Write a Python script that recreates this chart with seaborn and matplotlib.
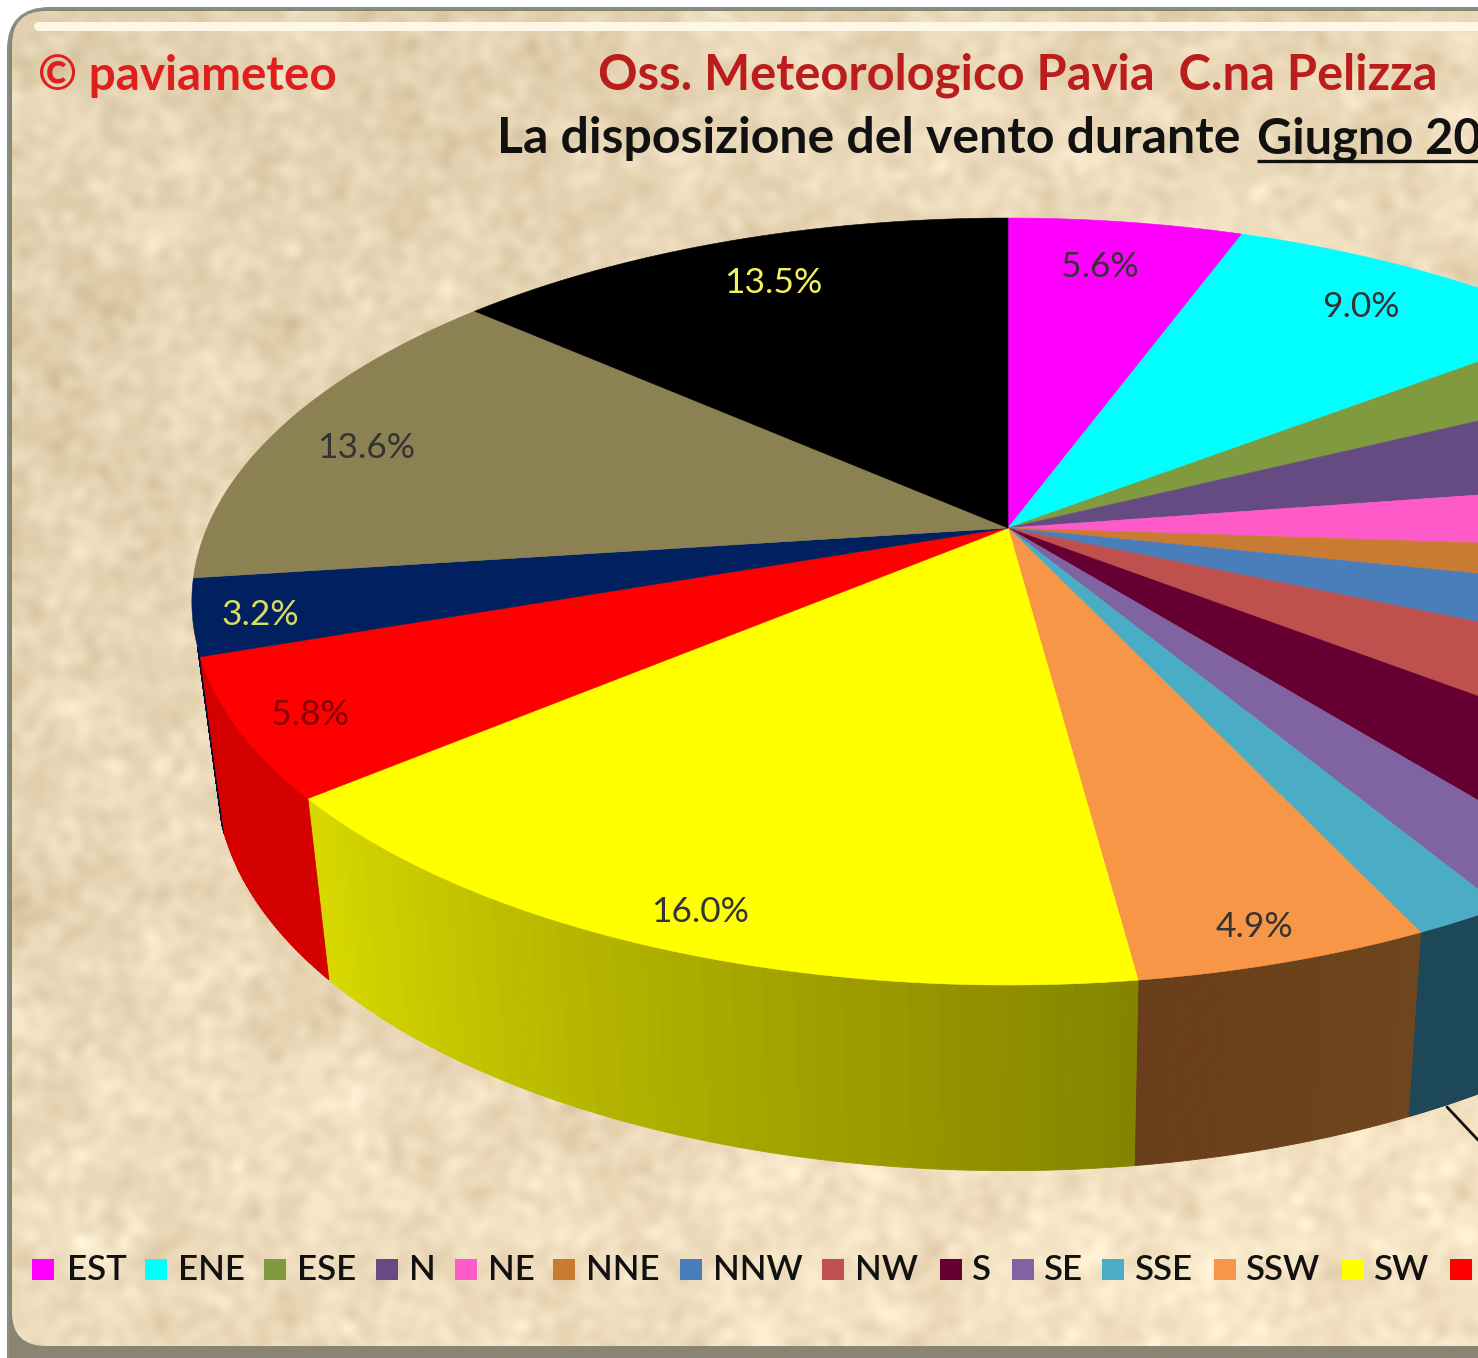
import numpy as np
import matplotlib
matplotlib.use('Agg')
import matplotlib.pyplot as plt
from matplotlib.patches import FancyBboxPatch
import seaborn as sns

# dati (senso orario dall'alto)
directions = ['EST', 'ENE', 'ESE', 'N', 'NE', 'NNE', 'NNW', 'NW', 'S', 'SE', 'SSE', 'SSW', 'SW', 'W', 'WNW', 'WSW', 'Calma']
values = [5.6, 9.0, 3.1, 4.9, 3.5, 2.2, 3.2, 4.0, 3.8, 2.1, 1.6, 4.9, 16.0, 5.8, 3.2, 13.6, 13.5]
colors = ['#FF00FF', '#00FFFF', '#7F9A3F', '#654B82', '#FF5BC8', '#C97B33', '#4A7EBB', '#C0504D', '#660033',
          '#8064A2', '#4BACC6', '#F79646', '#FFFF00', '#FF0000', '#002060', '#8B8152', '#000000']
shown_labels = ['EST', 'ENE', 'SSW', 'SW', 'W', 'WNW', 'WSW', 'Calma']
label_colors = {'Calma': '#F4F060', 'WNW': '#D8DC60', 'W': '#800000'}

# pareti laterali: sfumatura da destra a sinistra
wall_shades = {'SSE': ['#1C4757', '#1C4757'], 'SSW': ['#6E451C', '#693E1A'], 'SW': ['#848400', '#D8D800'],
               'W': ['#D40000', '#D40000'], 'WNW': ['#001030', '#001030']}

# layout in pixel
label_xy = {'EST': (1100, 267), 'ENE': (1361, 307), 'SSW': (1254, 927), 'SW': (700, 912),
            'W': (310, 715), 'WNW': (260, 615), 'WSW': (366, 448), 'Calma': (773, 283)}
swatch_x = [43, 156, 275, 387, 466, 564, 691, 833, 951, 1023, 1113, 1225, 1353, 1461]
text_x = [67, 178, 297, 409, 488, 586, 713, 855, 971, 1043, 1134, 1245, 1373]

CX, CY, A, B, P = 1008, 528, 801, 369.4, 0.1917
A2, B2, CY2 = 0.97 * A, 378, 703
FONT = 'Lato'

sns.set_theme(style='white')
plt.rcParams['font.family'] = FONT
fig = plt.figure(figsize=(14.78, 13.58), dpi=100)
ax = fig.add_axes([0, 0, 1, 1])


def project(deg, a=A, b=B, cy=CY):
    t = np.radians(deg)
    u, v = np.sin(t), -np.cos(t)
    w = 1 - P * v
    return CX + a * u / w, cy + b * v / w


# sfondo pergamena (somma di sinusoidi, niente foto disponibile)
yy, xx = np.mgrid[0:1358:2, 0:1478:2]
tex = np.zeros_like(xx, dtype=float)
for i in range(140):
    ang = i * 2.39996
    f = 0.008 + 0.0024 * i
    tex += np.sin(f * (xx * np.cos(ang) + yy * np.sin(ang)) + i * 1.7) / (1 + 0.012 * i)
tex = tex / tex.std()
light = 0.5 * (xx / 1478 + yy / 1358)
base = np.array([225, 208, 175], dtype=float) + 22 * light[..., None] * np.array([1, 1, 1.1])
img = np.clip(base + tex[..., None] * np.array([5, 6, 7]), 0, 255) / 255

outer = FancyBboxPatch((8, 8), 1800, 1400, boxstyle='round,pad=0,rounding_size=42', fc='#8A8472', ec='#8E8E86', lw=1.5, zorder=0)
ax.add_patch(outer)
inner = FancyBboxPatch((12, 11), 1800, 1335, boxstyle='round,pad=0,rounding_size=34', fc='none', ec='none', zorder=0.5)
ax.add_patch(inner)
im = ax.imshow(img, extent=(0, 1478, 1358, 0), aspect='auto', interpolation='bilinear', zorder=0.6)
im.set_clip_path(inner)
ax.plot([38, 1478], [26, 26], color='#FDF7E6', lw=6.5, solid_capstyle='round', zorder=1)

# pareti della torta
cum = np.concatenate([[0], np.cumsum(values)]) * 3.6
for i, name in enumerate(directions):
    if name not in wall_shades:
        continue
    t0, t1 = cum[i], cum[i + 1]
    if name == 'WNW':
        t1 = t0 + 1.5
    n = 60
    shades = sns.blend_palette(wall_shades[name], n_colors=n)
    edges = np.linspace(t0, t1, n + 1)
    for k in range(n):
        tt = np.linspace(edges[k], edges[k + 1], 4)
        xt, yt = project(tt)
        xb, yb = project(tt, A2, B2, CY2)
        ax.fill(np.r_[xt, xb[::-1]], np.r_[yt, yb[::-1]], color=shades[k], lw=0.6, zorder=2 + (name == 'W') * 0.5)

# spicchi superiori
for i, name in enumerate(directions):
    tt = np.linspace(cum[i], cum[i + 1], 80)
    xt, yt = project(tt)
    ax.fill(np.r_[CX, xt], np.r_[CY, yt], color=colors[i], lw=0.4, zorder=3)

# linea guida sotto il bordo
ax.plot([1447, 1478], [1107, 1140], color='#111111', lw=2, zorder=1.5)

# etichette percentuali
for name in shown_labels:
    i = directions.index(name)
    x, y = label_xy[name]
    ax.text(x, y, f'{values[i]:.1f}%', ha='center', va='center', fontsize=25.5, color=label_colors.get(name, '#333333'), zorder=4)

# legenda
sns.scatterplot(x=swatch_x, y=[1269.5] * len(swatch_x), hue=directions[:len(swatch_x)], palette=colors[:len(swatch_x)],
                marker='s', s=250, linewidth=0, legend=False, ax=ax, zorder=4)
for x, name in zip(text_x, directions):
    ax.text(x, 1280, name, ha='left', va='baseline', fontsize=25, fontweight='semibold', color='#111111', zorder=4)

# titoli
ax.text(38, 90, '© paviameteo', ha='left', va='baseline', fontsize=34.3, fontweight='bold', color='#E01E1E', zorder=4)
ax.text(598, 89.5, 'Oss. Meteorologico Pavia  C.na Pelizza', ha='left', va='baseline', fontsize=35.2, fontweight='bold', color='#BB1C1C', zorder=4)
ax.text(497, 153, 'La disposizione del vento durante', ha='left', va='baseline', fontsize=36, fontweight='bold', color='#111111', zorder=4)
ax.text(1257, 153, 'Giugno 20', ha='left', va='baseline', fontsize=35, fontweight='bold', color='#111111', zorder=4)
ax.plot([1257, 1478], [161, 161], color='#111111', lw=2.4, solid_capstyle='butt', zorder=4)

ax.set_xlim(0, 1478)
ax.set_ylim(1358, 0)
ax.axis('off')
fig.savefig('out.png', dpi=100, facecolor='white')
